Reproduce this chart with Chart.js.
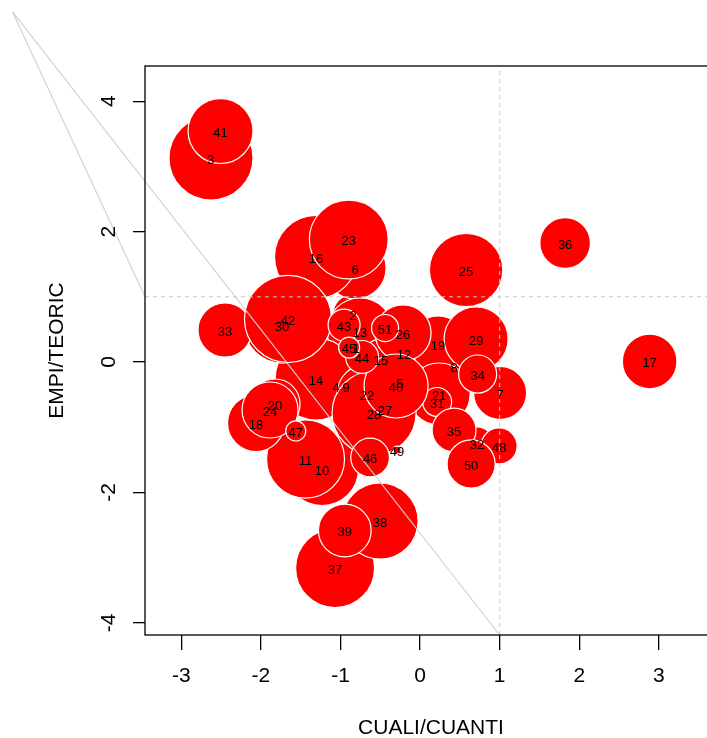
<!DOCTYPE html>
<html>
<head>
<meta charset="utf-8">
<script src="https://cdn.jsdelivr.net/npm/chart.js@4.4.1/dist/chart.umd.min.js"></script>
<style>
  html, body { margin: 0; padding: 0; overflow: hidden; background: #fff; }
  canvas { display: block; }
</style>
</head>
<body>
<canvas id="myChart" width="720" height="738"></canvas>
<script>
// etiquetas de cada punto (se dibujan en orden, los ultimos quedan encima)
const ids = [1, 2, 3, 4, 5, 6, 7, 8, 9, 10, 11, 12, 13, 14, 15, 16, 17, 18, 19, 20,
  21, 22, 23, 24, 25, 26, 27, 28, 29, 30, 31, 32, 33, 34, 35, 36, 37, 38, 39, 40,
  41, 42, 43, 44, 45, 46, 47, 48, 49, 50, 51];
const cualiCuanti = [-0.804, -0.842, -2.627, -1.056, -0.251, -0.817, 1.005, 0.427, -0.930, -1.232,
  -1.439, -0.201, -0.754, -1.307, -0.490, -1.307, 2.884, -2.061, 0.226, -1.822,
  0.239, -0.666, -0.896, -1.885, 0.578, -0.214, -0.440, -0.578, 0.704, -1.734,
  0.214, 0.716, -2.451, 0.723, 0.427, 1.822, -1.068, -0.503, -0.946, -0.302,
  -2.507, -1.659, -0.955, -0.729, -0.892, -0.628, -1.562, 0.993, -0.289, 0.641,
  -0.440];
const empiTeoric = [0.230, 0.736, 3.129, -0.368, -0.307, 1.442, -0.475, -0.061, -0.368, -1.641,
  -1.488, 0.138, 0.475, -0.261, 0.046, 1.610, 0.008, -0.936, 0.276, -0.644,
  -0.491, -0.491, 1.879, -0.736, 1.411, 0.445, -0.721, -0.782, 0.353, 0.567,
  -0.613, -1.242, 0.491, -0.184, -1.043, 1.825, -3.160, -2.439, -2.584, -0.368,
  3.543, 0.660, 0.567, 0.077, 0.222, -1.465, -1.058, -1.288, -1.350, -1.564,
  0.521];
// radio de cada circulo, en unidades del eje x
const radio = [0.151, 0.251, 0.528, 0.377, 0.251, 0.390, 0.333, 0.251, 0.352, 0.459,
  0.490, 0.302, 0.415, 0.515, 0.251, 0.522, 0.343, 0.358, 0.352, 0.314,
  0.390, 0.377, 0.495, 0.352, 0.461, 0.352, 0.377, 0.528, 0.402, 0.478,
  0.182, 0.201, 0.339, 0.239, 0.276, 0.318, 0.496, 0.478, 0.331, 0.402,
  0.408, 0.547, 0.201, 0.207, 0.132, 0.243, 0.126, 0.226, 0.050, 0.302,
  0.170];

const xTicks = [-3, -2, -1, 0, 1, 2, 3];
const yTicks = [-4, -2, 0, 2, 4];
const xLim = [-3.456, 3.73];
const yLim = [-4.187, 4.54];
const refX = 1;
const refY = 1;
// lineas grises que salen de fuera del grafico
const guiaA_x = [-5.12, -3.456];
const guiaA_y = [5.37, 1.0];
const guiaB_x = [-5.12, 1.0];
const guiaB_y = [5.37, -4.187];

const FONT = '"Liberation Sans", Arial, Helvetica, sans-serif';

const toPts = (xs, ys) => xs.map((x, i) => ({x: x, y: ys[i]}));

const marco = {
  id: 'marco',
  afterDatasetsDraw(chart) {
    const ctx = chart.ctx;
    const meta = chart.getDatasetMeta(0);
    ctx.save();
    ctx.font = '13px ' + FONT;
    ctx.fillStyle = '#000';
    ctx.textAlign = 'center';
    ctx.textBaseline = 'middle';
    meta.data.forEach((p, i) => ctx.fillText(String(ids[i]), p.x, p.y + 2));
    ctx.restore();
  },
  afterDraw(chart) {
    const ctx = chart.ctx;
    const a = chart.chartArea;
    const ys = chart.scales.y;
    ctx.save();
    ctx.strokeStyle = '#000';
    ctx.lineWidth = 1.3;
    ctx.strokeRect(a.left, a.top, a.right - a.left, a.bottom - a.top);
    // etiquetas del eje y giradas como en R
    ctx.font = '21px ' + FONT;
    ctx.fillStyle = '#000';
    ctx.textAlign = 'center';
    ctx.textBaseline = 'middle';
    yTicks.forEach(v => {
      ctx.save();
      ctx.translate(a.left - 36, ys.getPixelForValue(v));
      ctx.rotate(-Math.PI / 2);
      ctx.fillText(String(v), 0, 0);
      ctx.restore();
    });
    ctx.restore();
  }
};

const ctx = document.getElementById('myChart');
const chart = new Chart(ctx, {
  type: 'bubble',
  data: {
    datasets: [{
      label: 'puntos',
      order: 2,
      data: toPts(cualiCuanti, empiTeoric),
      backgroundColor: '#ff0000',
      borderColor: '#ffffff',
      borderWidth: 1.2,
      radius: 0
    }, {
      type: 'scatter',
      order: 1,
      data: [{x: refX, y: yLim[0]}, {x: refX, y: yLim[1]}],
      showLine: true,
      pointRadius: 0,
      borderColor: '#c8c8c8',
      borderWidth: 1,
      borderDash: [4, 4]
    }, {
      type: 'scatter',
      order: 1,
      data: [{x: xLim[0], y: refY}, {x: xLim[1], y: refY}],
      showLine: true,
      pointRadius: 0,
      borderColor: '#c8c8c8',
      borderWidth: 1,
      borderDash: [4, 4]
    }, {
      type: 'scatter',
      order: 1,
      clip: false,
      data: toPts(guiaA_x, guiaA_y),
      showLine: true,
      pointRadius: 0,
      borderColor: '#d3d3d3',
      borderWidth: 1.2
    }, {
      type: 'scatter',
      order: 1,
      clip: false,
      data: toPts(guiaB_x, guiaB_y),
      showLine: true,
      pointRadius: 0,
      borderColor: '#d3d3d3',
      borderWidth: 1.2
    }]
  },
  options: {
    responsive: false,
    animation: false,
    events: [],
    layout: { autoPadding: false, padding: { top: 66, right: 3, left: 0, bottom: 0 } },
    plugins: {
      legend: { display: false },
      tooltip: { enabled: false }
    },
    scales: {
      x: {
        type: 'linear',
        min: xLim[0],
        max: xLim[1],
        afterBuildTicks: (s) => { s.ticks = xTicks.map(v => ({value: v})); },
        afterFit: (s) => { s.height = 103; },
        border: { display: false },
        grid: { drawOnChartArea: false, drawTicks: true, tickLength: 15, color: '#000', lineWidth: 1.3 },
        ticks: { color: '#000', font: { family: FONT, size: 21 }, padding: 14, maxRotation: 0 },
        title: { display: true, text: 'CUALI/CUANTI', color: '#000', font: { family: FONT, size: 21, lineHeight: 1 }, padding: { top: 0, bottom: -1 } }
      },
      y: {
        type: 'linear',
        min: yLim[0],
        max: yLim[1],
        afterBuildTicks: (s) => { s.ticks = yTicks.map(v => ({value: v})); },
        afterFit: (s) => { s.width = 145; },
        border: { display: false },
        grid: { drawOnChartArea: false, drawTicks: true, tickLength: 12, color: '#000', lineWidth: 1.3 },
        ticks: { display: false },
        title: { display: true, text: 'EMPI/TEORIC', color: '#000', font: { family: FONT, size: 21, lineHeight: 1 }, padding: { top: 47, bottom: 0 } }
      }
    }
  },
  plugins: [marco]
});

// radio de las burbujas en pixeles, a partir de la escala x del propio grafico
const sx = chart.scales.x;
const pxUnidad = Math.abs(sx.getPixelForValue(1) - sx.getPixelForValue(0));
chart.data.datasets[0].data = cualiCuanti.map((x, i) => ({x: x, y: empiTeoric[i], r: radio[i] * pxUnidad}));
chart.update();
</script>
</body>
</html>
